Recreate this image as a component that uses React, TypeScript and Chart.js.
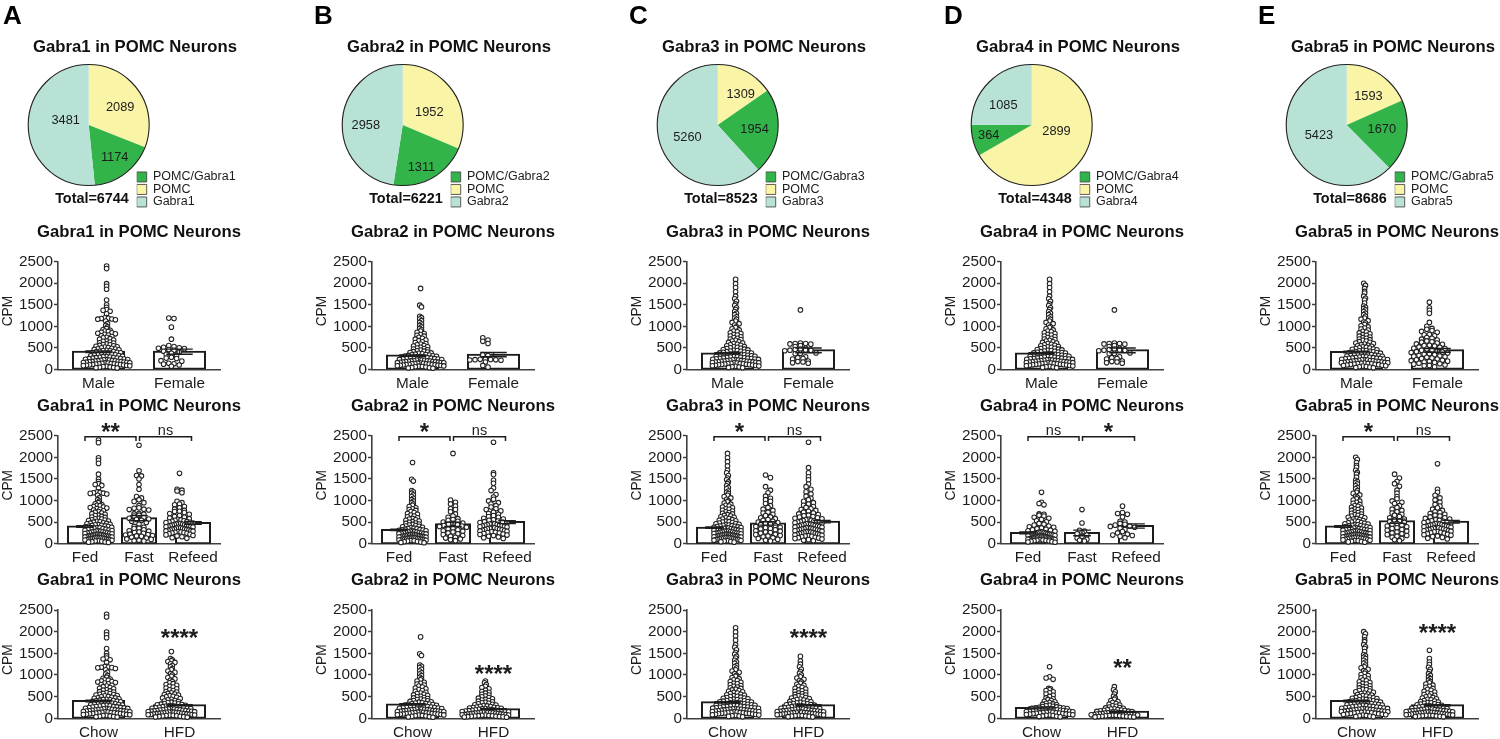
import React, { useEffect, useRef } from "react";
import { Chart, registerables } from "chart.js";

Chart.register(...registerables);

const genes = ["Gabra1", "Gabra2", "Gabra3", "Gabra4", "Gabra5"];
const panelLetters = ["A", "B", "C", "D", "E"];
const pomcOnly = [2089, 1952, 1309, 2899, 1593];
const both = [1174, 1311, 1954, 364, 1670];
const geneOnly = [3481, 2958, 5260, 1085, 5423];
const totals = [6744, 6221, 8523, 4348, 8686];

const sexLabels = ["Male", "Female"];
const nutritionLabels = ["Fed", "Fast", "Refeed"];
const dietLabels = ["Chow", "HFD"];

const sexMeans = [[410, 410], [320, 340], [370, 440], [370, 440], [400, 440]];
const sexSems = [[18, 60], [15, 50], [15, 55], [15, 55], [18, 45]];
const nutritionMeans = [[400, 590, 480], [320, 450, 500], [370, 470, 510], [250, 250, 410], [400, 520, 510]];
const nutritionSems = [[18, 60, 30], [15, 50, 35], [15, 40, 28], [22, 65, 50], [18, 50, 30]];
const dietMeans = [[400, 300], [320, 210], [370, 300], [240, 150], [400, 300]];
const dietSems = [[18, 14], [15, 9], [15, 12], [22, 10], [18, 12]];

const nutritionMarks = [["**", "ns"], ["*", "ns"], ["*", "ns"], ["ns", "*"], ["*", "ns"]];
const dietMarks = ["****", "****", "****", "**", "****"];
const dietMarkValues = [1900, 1070, 1890, 1210, 2020];

const gabra1Base = [2400,2340,1990,1930,1860,1610,1500,1440,1390,1370,1350,1290,1200,1195,1185,1180,1170,1165,1150,1120,1060,1020,985,950,925,905,890,880,862,850,838,825,815,795,780,760,745,730,712,695,680,660,650,632,615,608,590,575,570,555,548,536,525,518,505,498,486,475,470,462,451,440,436,428,418,412,405,396,390,382,371,366,358,352,341,336,329,318,312,305,298,294,287,281,274,270,263,258,251,247,240,233,228,224,219,214,210,206,201,197,192,188,183,178,174,170,166,161,157,152,148,144,139,135,130,127,122,118,113,109,103,99,94,90,85,80,68,62,55,47,41,36,30];
const gabra2Base = [1880,1490,1450,1230,1200,1170,1130,1090,1050,1020,985,950,920,890,860,830,810,790,770,745,722,700,682,665,640,622,600,585,570,552,540,525,510,496,480,470,455,446,432,421,410,402,390,381,372,360,352,344,336,330,322,316,308,301,296,289,283,278,270,266,259,252,247,241,237,230,226,221,217,213,208,204,199,195,191,187,182,178,174,170,166,162,158,154,150,146,142,138,134,130,126,121,117,113,109,104,100,96,92,88,83,78,73,66,60,52,44,37,30,24];
const gabra3Base = [2090,1990,1900,1800,1700,1640,1580,1520,1480,1430,1390,1340,1300,1270,1220,1190,1160,1120,1090,1060,1030,990,970,940,915,890,870,850,830,810,795,775,755,740,722,705,690,672,655,640,625,610,598,582,570,556,544,530,522,510,500,488,480,468,460,450,442,434,425,417,410,403,396,389,381,376,368,361,355,349,342,336,331,325,318,313,307,301,296,291,285,280,274,269,264,258,253,248,244,239,234,229,224,220,215,211,206,202,197,193,188,184,180,175,171,167,162,158,154,149,145,141,136,132,127,123,118,114,109,104,99,94,88,82,75,68,60,52,44,36];
const gabra4Base = [1190,960,930,900,690,680,660,640,612,590,560,530,505,470,452,430,410,392,380,362,348,332,320,310,298,288,279,270,263,256,250,244,238,232,226,221,216,210,205,200,196,191,187,182,178,173,169,164,160,155,151,146,142,137,133,128,124,119,115,110,106,101,96,91,86,80,74,68,62,55,48,40,33];
const gabra5Base = [2000,1950,1880,1810,1770,1700,1650,1610,1540,1470,1440,1410,1380,1340,1300,1270,1230,1190,1165,1130,1100,1075,1040,1010,985,960,935,910,885,865,845,825,805,790,770,750,735,720,702,688,672,658,642,628,612,600,585,572,560,548,536,524,514,502,492,482,472,463,454,445,436,428,420,412,405,397,390,382,375,368,361,354,347,341,335,328,322,316,310,304,298,292,286,280,275,270,264,259,254,249,243,238,233,228,224,219,214,210,205,200,196,191,187,182,178,173,169,164,160,155,151,146,142,137,133,128,123,118,113,107,101,95,88,81,74,66,58,50,42,34];

const maleValues = [gabra1Base, gabra2Base, gabra3Base, gabra3Base, gabra5Base];
const femaleValues = [
  [1190,1180,980,700,550,530,510,500,490,480,460,440,420,400,370,350,320,280,260,250,200,190,140,130,120,100,70],
  [730,680,650,600,340,320,235,232,228,224,220,215,210,170,90,50],
  [1380,610,600,600,590,585,550,530,490,470,460,450,445,440,430,380,370,360,290,270,250,240,190,180,170,150,140],
  [1380,610,600,600,590,585,550,530,490,470,460,450,445,440,430,380,370,360,290,270,250,240,190,180,170,150,140],
  [1560,1430,1370,1300,1090,1000,950,930,900,880,860,810,800,780,740,720,700,680,660,640,630,610,590,580,560,550,540,520,510,490,480,470,450,440,420,410,400,390,380,360,350,340,320,310,300,290,280,260,250,240,220,210,200,190,180,170,160,140,130,120,100,90,80,60],
];
const fedValues = [gabra1Base, gabra2Base, gabra3Base, gabra4Base, gabra5Base];
const fastValues = [
  [2280,1690,1580,1570,1500,1370,1260,1090,1060,1020,980,950,880,830,820,800,790,780,700,690,680,660,640,610,590,570,560,540,520,490,450,400,380,360,350,320,300,290,270,260,240,220,210,200,190,180,170,150,130,110,100,80,70,60],
  [2090,1010,960,920,870,810,790,740,690,640,610,580,560,540,520,500,480,470,450,440,420,410,400,380,360,340,320,300,290,270,250,230,210,190,170,150,130,110,90,70],
  [1590,1530,1320,1240,1180,1100,1050,1020,980,930,880,840,800,770,730,710,680,650,620,600,580,560,540,520,500,490,470,450,440,420,400,380,370,350,340,320,300,290,270,260,240,220,210,190,180,160,140,120,100,80,60],
  [790,480,310,290,260,230,200,170,130,100,80,60],
  [1610,1520,1440,1390,1330,1240,1170,1090,1040,990,960,930,880,840,800,770,740,710,680,660,630,600,570,550,530,510,490,470,450,430,410,390,370,350,330,310,290,270,250,230,210,190,170,150,120,90,70],
];
const refeedValues = [
  [1630,1260,1240,1220,1180,980,950,920,900,860,830,800,770,750,745,720,700,680,650,630,610,595,580,565,550,540,530,520,510,502,495,488,480,472,465,458,450,444,438,430,424,418,410,404,398,390,384,378,370,362,356,348,342,336,330,322,316,310,302,296,290,280,272,264,256,248,240,228,216,204,190,176,160,140,125],
  [2350,1640,1600,1470,1400,1290,1230,1140,1080,1030,990,950,920,880,850,810,790,760,730,700,680,650,630,610,590,570,555,540,525,510,500,490,480,470,462,454,446,438,430,424,416,408,400,392,384,376,368,360,352,344,336,328,320,312,304,296,286,276,266,256,246,236,224,212,200,188,172,156,140,120],
  [2350,1760,1640,1550,1480,1380,1320,1260,1200,1150,1100,1050,1020,980,950,920,890,860,840,810,790,770,750,730,710,690,675,660,645,630,615,600,590,578,566,555,545,535,525,516,508,500,492,484,476,468,460,452,445,438,430,424,416,410,402,396,388,382,375,368,360,354,346,340,332,326,318,312,304,298,290,284,276,270,262,256,248,242,234,226,218,210,202,194,186,178,170,160,150,140,130,118,106,94,80,66],
  [870,720,700,680,620,520,500,470,450,430,410,400,380,360,330,280,250,220,200,190,170,140],
  [1850,1260,1190,1120,1060,1010,960,910,870,830,800,770,740,720,700,680,660,640,620,600,585,570,556,542,530,520,510,500,490,482,474,466,458,450,442,435,428,420,412,405,398,390,382,375,368,360,352,345,338,330,322,314,306,298,290,282,274,264,254,244,232,220,208,194,180,164,146,128,110],
];
const chowValues = fedValues;
const hfdValues = [
  [1540,1380,1350,1330,1310,1290,1260,1220,1190,1150,1120,1090,1060,1030,1000,970,940,910,880,850,820,800,780,760,740,720,700,680,660,640,620,605,590,575,560,548,535,522,510,498,486,470,455,440,425,410,398,385,372,362,352,342,334,326,318,310,302,295,288,281,274,268,262,256,250,244,238,232,227,222,217,212,207,203,198,194,190,186,181,177,173,169,165,161,157,153,149,145,141,137,133,129,125,121,117,113,109,105,101,97,93,89,85,81,77,73,68,63,58,53,48,43,38,32,26],
  [860,820,780,740,710,680,650,620,600,580,555,535,515,495,480,465,450,436,422,408,395,382,370,358,346,335,324,314,304,295,286,278,270,262,255,248,241,235,229,223,217,211,206,201,196,191,186,181,176,171,166,161,157,153,149,145,141,137,133,129,125,121,117,113,109,105,101,97,93,89,85,81,77,73,69,65,61,57,53,49,45,41,37,33,28,24],
  [1430,1320,1250,1190,1130,1080,1040,1000,960,930,900,870,840,810,785,760,738,716,695,675,655,635,618,600,583,567,551,536,522,508,494,480,468,456,444,432,420,410,400,390,380,370,360,351,342,334,326,318,310,303,296,289,282,275,268,262,256,250,244,238,232,227,222,217,212,207,202,197,192,187,182,178,174,170,166,162,158,154,150,146,142,138,134,130,126,122,118,114,110,106,102,98,94,90,85,80,75,70,65,60,55,50,44,38,32],
  [730,660,610,560,510,470,440,410,385,362,340,322,305,290,276,262,250,240,230,221,212,204,197,190,183,177,171,165,159,154,149,144,139,134,129,124,120,116,112,108,104,100,96,92,88,84,80,76,72,68,64,60,56,52,48,44,40,36,32,28],
  [1570,1380,1300,1240,1180,1130,1080,1030,990,950,915,880,850,820,790,765,740,715,690,668,646,625,605,585,566,548,530,514,498,482,466,452,438,425,412,400,388,377,366,356,346,336,327,318,310,302,294,286,279,272,265,258,252,246,240,234,228,223,218,213,208,203,198,193,188,184,180,176,172,168,164,160,156,152,148,144,140,136,132,128,124,120,116,112,108,104,100,96,92,88,84,80,76,72,68,64,60,55,50,45,40,34],
];

const FONT = '"Liberation Sans", Arial, sans-serif';
const INK = "#1c1c1c";
const AXIS = "#3f3f3f";
const GREEN = "#33b44a";
const YELLOW = "#f9f4a6";
const TEAL = "#b9e2d6";

const colOffsets = [0, 314, 629, 943, 1258];
const letterX = [3, 0, 0, 1, 0];
const pieLabelOffsets = [
  [[0.52, -0.29], [0.43, 0.54], [-0.38, -0.07]],
  [[0.44, -0.2], [0.31, 0.71], [-0.61, 0]],
  [[0.38, -0.5], [0.61, 0.07], [-0.5, 0.2]],
  [[0.41, 0.1], [-0.71, 0.18], [-0.47, -0.32]],
  [[0.36, -0.48], [0.58, 0.07], [-0.46, 0.17]],
];
const rowGeom = [
  { top: 215, height: 175, titleY: 17, plotTop: 46.7, plotBottom: 154.3 },
  { top: 390, height: 175, titleY: 16.7, plotTop: 45.7, plotBottom: 153.7 },
  { top: 565, height: 174, titleY: 15.7, plotTop: 45, plotBottom: 153.3 },
];

// beeswarm: x offsets are derived from the values alone, Prism-style rows;
// sparse groups get taller rows and wider spacing, as in the original
function swarm(values: number[], center: number, halfWidth: number, catPx: number, sparse: boolean) {
  const binSize = sparse ? 95 : 75;
  const spacing = (sparse ? 6.5 : 4.4) / catPx;
  const bins = new Map<number, number[]>();
  values.forEach((v) => {
    const k = Math.floor(v / binSize);
    if (!bins.has(k)) bins.set(k, []);
    bins.get(k)!.push(v);
  });
  const pts: { x: number; y: number }[] = [];
  bins.forEach((vals) => {
    const n = vals.length;
    const base = !sparse && n <= 2 ? spacing / 2 : spacing;
    const s = n > 1 ? Math.min(base, (2 * halfWidth) / (n - 1)) : 0;
    const slots = Array.from({ length: n }, (_, k) => (k - (n - 1) / 2) * s).sort((a, b) => Math.abs(a) - Math.abs(b));
    vals.forEach((v, i) => pts.push({ x: center + slots[i], y: v }));
  });
  return pts;
}

const PLOT_W = 162;
const CANVAS_W = 278;

const titleSpan = {
  id: "titleSpan",
  afterLayout(chart: any) {
    const t = chart.titleBlock;
    if (t) { t.left = 0; t.right = chart.width; t.width = chart.width; }
  },
};

function makeBarChart(canvas: HTMLCanvasElement, col: number, row: number) {
  const g = rowGeom[row];
  const labels = row === 0 ? sexLabels : row === 1 ? nutritionLabels : dietLabels;
  const means = (row === 0 ? sexMeans : row === 1 ? nutritionMeans : dietMeans)[col];
  const sems = (row === 0 ? sexSems : row === 1 ? nutritionSems : dietSems)[col];
  const groups =
    row === 0 ? [maleValues[col], femaleValues[col]]
    : row === 1 ? [fedValues[col], fastValues[col], refeedValues[col]]
    : [chowValues[col], hfdValues[col]];
  const n = labels.length;
  const catPx = PLOT_W / n;
  const hwPx = row === 1 ? 18 : 29;
  const points = groups.flatMap((vals, i) =>
    swarm(vals, i + 0.5, hwPx / catPx, catPx, row !== 2 && vals.length < 100)
  );

  const annotations = {
    id: "annotations",
    afterDatasetsDraw(chart: any) {
      const { ctx, scales } = chart;
      const xS = scales.x, yS = scales.y;
      ctx.save();
      ctx.strokeStyle = INK;
      ctx.fillStyle = INK;
      ctx.lineWidth = 1.4;
      means.forEach((m: number, i: number) => {
        const x = xS.getPixelForValue(i);
        const cap = catPx * 0.654 * 0.25;
        const yT = yS.getPixelForValue(m + sems[i]);
        const yB = yS.getPixelForValue(m - sems[i]);
        ctx.beginPath();
        ctx.moveTo(x - cap, yT); ctx.lineTo(x + cap, yT);
        ctx.moveTo(x - cap, yB); ctx.lineTo(x + cap, yB);
        ctx.moveTo(x, yT); ctx.lineTo(x, yB);
        ctx.stroke();
      });
      ctx.save();
      ctx.translate(8, (yS.top + yS.bottom) / 2 - 4.5);
      ctx.rotate(-Math.PI / 2);
      ctx.font = `13.8px ${FONT}`;
      ctx.textAlign = "center";
      ctx.textBaseline = "middle";
      ctx.fillText("CPM", 0, 0);
      ctx.restore();
      const mark = (text: string, x: number, y: number) => {
        ctx.textAlign = "center";
        if (text === "ns") {
          ctx.font = `14.5px ${FONT}`;
          ctx.textBaseline = "middle";
          ctx.fillText(text, x, y);
        } else {
          ctx.font = `bold 24px ${FONT}`;
          ctx.textBaseline = "alphabetic";
          ctx.fillText(text, x, y + 9.7);
        }
      };
      if (row === 1) {
        const yTop = yS.getPixelForValue(2477);
        const yEnd = yS.getPixelForValue(2380);
        const spans: [number, number, number, number][] = [[0, 0, 1, -3], [1, 0.5, 2, -1.5]];
        ctx.lineWidth = 1.5;
        spans.forEach(([a, da, b, db], i) => {
          const x1 = xS.getPixelForValue(a) + da, x2 = xS.getPixelForValue(b) + db;
          ctx.beginPath();
          ctx.moveTo(x1, yEnd); ctx.lineTo(x1, yTop); ctx.lineTo(x2, yTop); ctx.lineTo(x2, yEnd);
          ctx.stroke();
          mark(nutritionMarks[col][i], (x1 + x2) / 2, yTop - 6);
        });
      }
      if (row === 2) {
        mark(dietMarks[col], xS.getPixelForValue(1), yS.getPixelForValue(dietMarkValues[col]));
      }
      ctx.restore();
    },
  };

  return new Chart(canvas, {
    type: "bar",
    data: {
      labels,
      datasets: [
        {
          type: "bar", data: means, xAxisID: "x", yAxisID: "y", order: 2, grouped: false,
          backgroundColor: "#ffffff", borderColor: INK, borderWidth: 2, borderSkipped: false, inflateAmount: 1,
          barPercentage: 0.63, categoryPercentage: 1,
        } as any,
        {
          type: "scatter", data: points, xAxisID: "xs", yAxisID: "y", order: 1, clip: false,
          pointRadius: 2.3, pointBackgroundColor: "#ffffff", pointBorderColor: "#222222", pointBorderWidth: 1.05,
        } as any,
      ],
    },
    options: {
      animation: false, responsive: false, devicePixelRatio: 1, events: [],
      layout: { padding: { left: 0, right: CANVAS_W - 58 - PLOT_W, top: 0, bottom: 0 } },
      plugins: {
        legend: { display: false }, tooltip: { enabled: false },
        title: {
          display: true, text: `${genes[col]} in POMC Neurons`, color: "#111",
          font: { family: FONT, size: 16.7, weight: "bold", lineHeight: 1.2 },
          padding: { top: g.titleY - 10, bottom: g.plotTop - g.titleY - 10 },
        },
      },
      scales: {
        x: {
          type: "category", offset: true,
          afterFit: (s: any) => { s.height = g.height - g.plotBottom; },
          grid: { display: true, drawOnChartArea: false, drawTicks: false },
          border: { color: AXIS, width: 1.6 },
          ticks: { color: INK, font: { family: FONT, size: 15.3 }, padding: 5, maxRotation: 0, minRotation: 0, autoSkip: false },
        },
        xs: { type: "linear", display: false, min: 0, max: n },
        y: {
          type: "linear", min: 0, max: 2500,
          afterFit: (s: any) => { s.width = 58; },
          grid: { display: true, drawOnChartArea: false, drawTicks: true, tickLength: 4, tickWidth: 1.5, tickColor: AXIS },
          border: { color: AXIS, width: 1.6 },
          ticks: { stepSize: 500, color: INK, font: { family: FONT, size: 15.3 }, padding: 1, callback: (v: any) => String(v) },
        },
      },
    } as any,
    plugins: [titleSpan, annotations],
  });
}

function makePie(canvas: HTMLCanvasElement, col: number) {
  const names = ["POMC", `POMC/${genes[col]}`, genes[col]];
  const legendRank = [1, 0, 2];
  const overlay = {
    id: "pieText",
    afterLayout(chart: any) {
      const l = chart.legend;
      l.left = 136.7; l.top = 170.7;
      l.right = l.left + l.width; l.bottom = l.top + l.height;
    },
    afterDatasetsDraw(chart: any) {
      const { ctx } = chart;
      const arcs = chart.getDatasetMeta(0).data;
      const first = arcs[0];
      ctx.save();
      ctx.strokeStyle = "#222";
      ctx.lineWidth = 1.1;
      ctx.beginPath();
      ctx.arc(first.x, first.y, first.outerRadius, 0, Math.PI * 2);
      ctx.stroke();
      ctx.fillStyle = INK;
      ctx.textAlign = "center";
      ctx.textBaseline = "middle";
      ctx.font = `12.8px ${FONT}`;
      arcs.forEach((arc: any, i: number) => {
        const [dx, dy] = pieLabelOffsets[col][i];
        ctx.fillText(String(chart.data.datasets[0].data[i]), arc.x + dx * arc.outerRadius, arc.y + dy * arc.outerRadius);
      });
      ctx.fillStyle = "#111";
      ctx.font = `bold 14.4px ${FONT}`;
      ctx.fillText(`Total=${totals[col]}`, 92, 199);
      ctx.textAlign = "left";
      ctx.textBaseline = "alphabetic";
      ctx.fillStyle = "#000";
      ctx.font = `bold 26px ${FONT}`;
      ctx.fillText(panelLetters[col], letterX[col], 24.3);
      ctx.restore();
    },
  };
  return new Chart(canvas, {
    type: "pie",
    data: {
      labels: names,
      datasets: [{
        data: [pomcOnly[col], both[col], geneOnly[col]],
        backgroundColor: [YELLOW, GREEN, TEAL],
        borderColor: "transparent",
        borderWidth: 0,
      }],
    },
    options: {
      animation: false, responsive: false, devicePixelRatio: 1, events: [],
      layout: { padding: { left: 28.2, right: 270 - 149.2, top: 0, bottom: 215 - 185.5 } },
      plugins: {
        tooltip: { enabled: false },
        title: {
          display: true, text: `${genes[col]} in POMC Neurons`, color: "#111",
          font: { family: FONT, size: 16.7, weight: "bold", lineHeight: 1.2 },
          padding: { top: 37.7, bottom: 6.8 },
        },
        legend: {
          position: "chartArea", align: "start",
          labels: {
            color: INK, font: { family: FONT, size: 12.5 }, boxWidth: 10, boxHeight: 10, padding: 0,
            generateLabels: (chart: any) =>
              (Chart as any).overrides.pie.plugins.legend.labels.generateLabels(chart).map((it: any) => ({
                ...it, strokeStyle: "#4a4a4a", lineWidth: 0.9,
              })),
            sort: (a: any, b: any) => legendRank[a.index] - legendRank[b.index],
          },
        },
      },
    } as any,
    plugins: [titleSpan, overlay],
  });
}

export default function App() {
  const refs = useRef<(HTMLCanvasElement | null)[]>([]);
  useEffect(() => {
    const charts: Chart[] = [];
    genes.forEach((_, col) => {
      charts.push(makePie(refs.current[col * 4]!, col));
      [0, 1, 2].forEach((row) => charts.push(makeBarChart(refs.current[col * 4 + row + 1]!, col, row)));
    });
    return () => charts.forEach((c) => c.destroy());
  }, []);
  const cells: React.ReactNode[] = [];
  genes.forEach((_, col) => {
    const left = colOffsets[col];
    cells.push(
      <canvas key={`p${col}`} ref={(el) => { refs.current[col * 4] = el; }} width={270} height={215}
        style={{ position: "absolute", left, top: 0, width: 270, height: 215 }} />
    );
    rowGeom.forEach((g, row) => {
      cells.push(
        <canvas key={`b${col}-${row}`} ref={(el) => { refs.current[col * 4 + row + 1] = el; }} width={CANVAS_W} height={g.height}
          style={{ position: "absolute", left, top: g.top, width: CANVAS_W, height: g.height }} />
      );
    });
  });
  return (
    <div style={{ position: "absolute", left: 0, top: 0, width: 1500, height: 739, overflow: "hidden", background: "#fff" }}>
      {cells}
    </div>
  );
}
